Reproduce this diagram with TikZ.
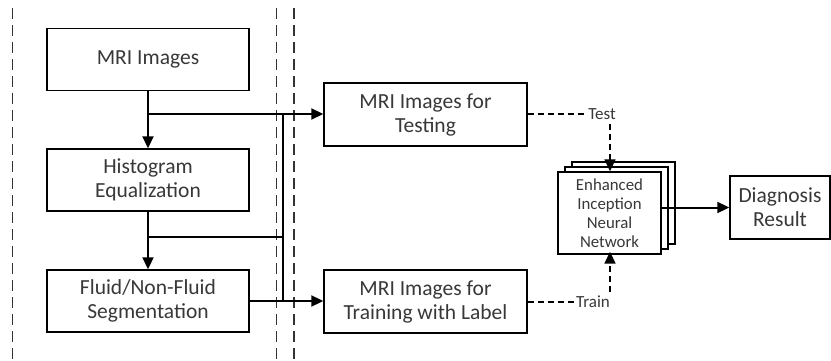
\documentclass[tikz,border=0pt]{standalone}
\usepackage{fontspec}
\setmainfont{Carlito}
\usetikzlibrary{arrows.meta}
\begin{document}
\begin{tikzpicture}[x=1pt,y=-1pt,
  box/.style={draw,line width=1.4pt,fill=white,inner sep=0pt,align=center,
    font=\fontsize{21.5}{24}\selectfont,text=black!78},
  netbox/.style={draw,line width=1.4pt,fill=white,inner sep=0pt,align=center,
    minimum width=103pt,minimum height=82pt,font=\fontsize{16.8}{19}\selectfont,text=black!78},
  conn/.style={line width=2pt,-{Triangle[length=12pt,width=11pt]}},
  plain/.style={line width=2pt},
  dconn/.style={line width=1.6pt,dash pattern=on 6pt off 4pt,-{Triangle[length=12pt,width=11pt]}},
  dplain/.style={line width=1.6pt,dash pattern=on 6pt off 4pt},
  sep/.style={line width=1pt,dash pattern=on 11pt off 6pt,black!80},
  lbl/.style={inner sep=1pt,fill=white,font=\fontsize{17}{19}\selectfont,text=black!78}]
\useasboundingbox (0,0) rectangle (831,361);
% separators
\coordinate (s1t) at (12,8);   \coordinate (s1b) at (12,361);
\coordinate (s2t) at (276,8);  \coordinate (s2b) at (276,361);
\coordinate (s3t) at (294,8);  \coordinate (s3b) at (294,361);
\draw[sep] (s1t) -- (s1b);
\draw[sep] (s2t) -- (s2b);
\draw[sep,line width=1.4pt] (s3t) -- (s3b);
% left column
\node[box,minimum width=202pt,minimum height=62pt] (mri) at (148,59.5) {MRI Images};
\node[box,minimum width=202pt,minimum height=62pt] (hist) at (148,180) {Histogram\\Equalization};
\node[box,minimum width=202pt,minimum height=62pt] (seg) at (148,301) {Fluid/Non-Fluid\\Segmentation};
% middle
\node[box,minimum width=203pt,minimum height=63pt] (test) at (425.5,114.5) {MRI Images for\\Testing};
\node[box,minimum width=203pt,minimum height=63pt] (train) at (425.5,301.5) {MRI Images for\\Training with Label};
% network stack
\node[netbox] (net3) at (623.5,203) {};
\node[netbox] (net2) at (616.5,208) {};
\node[netbox] (net) at (609.5,213) {Enhanced\\Inception\\Neural\\Network};
% result
\node[box,minimum width=100pt,minimum height=63pt] (diag) at (780,207.5) {Diagnosis\\Result};
% connectors
\coordinate (j1) at (148,114);
\coordinate (j2) at (148,237);
\coordinate (bt) at (283,114);
\coordinate (bm) at (283,237);
\coordinate (bb) at (283,301);
\draw[conn] (mri.south) -- (hist.north);
\draw[conn] (hist.south) -- (seg.north);
\draw[conn] (j1) -- (j1 -| test.west);
\draw[plain] (j2) -- (bm);
\draw[plain] (bt) -- (bb);
\draw[conn] (seg.east |- bb) -- (train.west |- bb);
% dashed test/train
\coordinate (tc) at (610,114);
\coordinate (rc) at (610,302);
\draw[dplain] (test.east |- tc) -- (tc);
\draw[dconn] (tc) -- (net.north -| tc);
\draw[dplain] (train.east |- rc) -- (rc);
\draw[dconn] (rc) -- ([yshift=3pt]net.south -| rc);
\node[lbl] (testl) at (602,114) {Test};
\node[lbl] (trainl) at (593,302) {Train};
\draw[conn] (net.east |- diag.west) -- (diag.west);
\end{tikzpicture}
\end{document}
